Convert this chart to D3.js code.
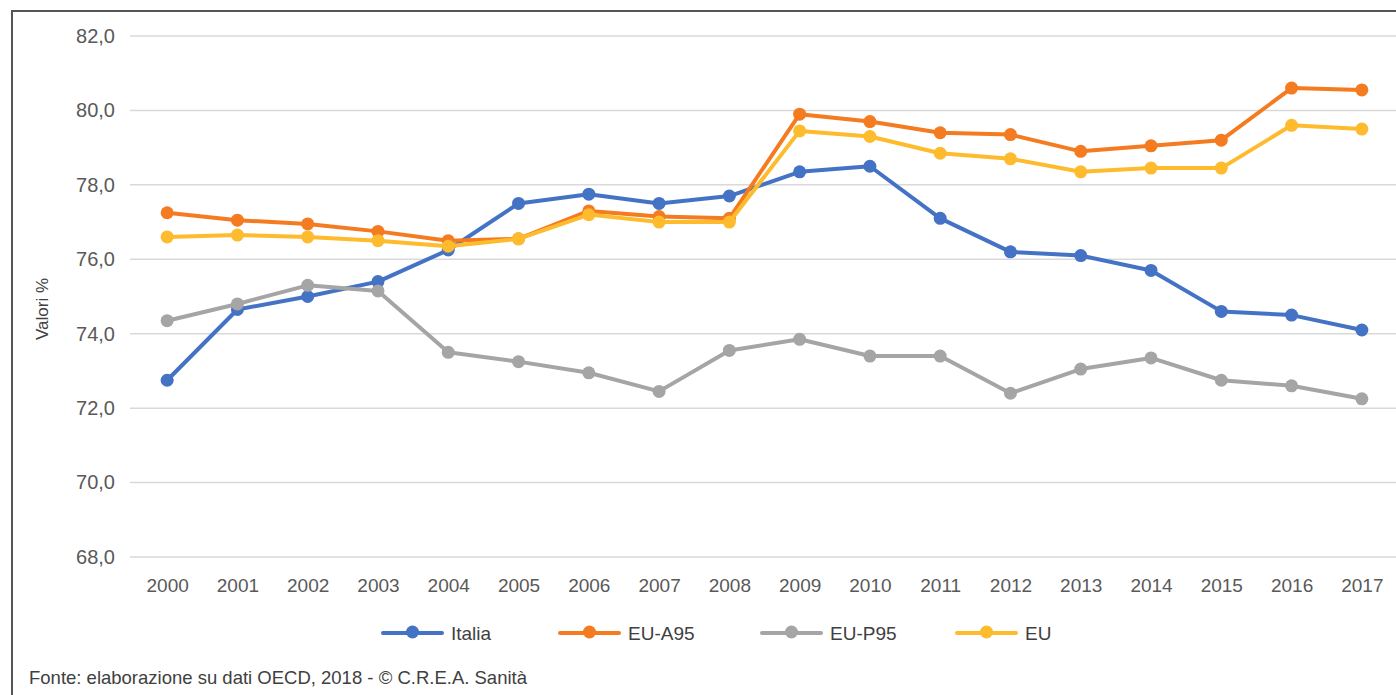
<!DOCTYPE html>
<html>
<head>
<meta charset="utf-8">
<script src="https://cdn.jsdelivr.net/npm/d3@7"></script>
<style>
  body { margin: 0; background: #fff; }
  svg { display: block; }
</style>
</head>
<body>
<svg width="1396" height="695"></svg>
<script>
var years = ["2000","2001","2002","2003","2004","2005","2006","2007","2008",
             "2009","2010","2011","2012","2013","2014","2015","2016","2017"];
var yTicks = [68, 70, 72, 74, 76, 78, 80, 82];

var italia = [72.75, 74.65, 75.0, 75.4, 76.25, 77.5, 77.75, 77.5, 77.7, 78.35, 78.5, 77.1, 76.2, 76.1, 75.7, 74.6, 74.5, 74.1];
var euA95  = [77.25, 77.05, 76.95, 76.75, 76.5, 76.55, 77.3, 77.15, 77.1, 79.9, 79.7, 79.4, 79.35, 78.9, 79.05, 79.2, 80.6, 80.55];
var euP95  = [74.35, 74.8, 75.3, 75.15, 73.5, 73.25, 72.95, 72.45, 73.55, 73.85, 73.4, 73.4, 72.4, 73.05, 73.35, 72.75, 72.6, 72.25];
var eu     = [76.6, 76.65, 76.6, 76.5, 76.35, 76.55, 77.2, 77.0, 77.0, 79.45, 79.3, 78.85, 78.7, 78.35, 78.45, 78.45, 79.6, 79.5];

var seriesNames = ["Italia", "EU-A95", "EU-P95", "EU"];
var seriesColors = ["#4472c4", "#f47b20", "#a5a5a5", "#fdbb2d"];
var seriesValues = [italia, euA95, euP95, eu];

var svg = d3.select("svg");
var sans = "'Liberation Sans', Arial, sans-serif";

var x = d3.scalePoint().domain(years).range([132, 1397]).padding(0.5);
var y = d3.scaleLinear().domain([68, 82]).range([557, 36]);

// frame
svg.append("path")
    .attr("d", "M12,695 L12,11 L1396,11")
    .attr("fill", "none")
    .attr("stroke", "#555")
    .attr("stroke-width", 2);

// grid
svg.append("g").selectAll("line")
    .data(yTicks)
    .enter().append("line")
      .attr("x1", 130).attr("x2", 1396)
      .attr("y1", function(d) { return y(d); })
      .attr("y2", function(d) { return y(d); })
      .attr("stroke", "#d9d9d9")
      .attr("stroke-width", 1.5);

// y axis
var yAxis = svg.append("g")
    .attr("transform", "translate(130,0)")
    .call(d3.axisLeft(y).tickValues(yTicks).tickSize(0).tickPadding(15)
      .tickFormat(function(d) { return d3.format(".1f")(d).replace(".", ","); }));
yAxis.select(".domain").remove();
yAxis.selectAll("text")
    .attr("font-family", sans)
    .attr("font-size", 20)
    .attr("fill", "#595959");

// x axis
var xAxis = svg.append("g")
    .attr("transform", "translate(0,571)")
    .call(d3.axisBottom(x).tickSize(0).tickPadding(8));
xAxis.select(".domain").remove();
xAxis.selectAll("text")
    .attr("font-family", sans)
    .attr("font-size", 19)
    .attr("fill", "#595959");

// y title
svg.append("text")
    .attr("transform", "translate(48,309) rotate(-90)")
    .attr("text-anchor", "middle")
    .attr("font-family", sans)
    .attr("font-size", 17)
    .attr("fill", "#404040")
    .text("Valori %");

var line = d3.line()
    .x(function(d, i) { return x(years[i]); })
    .y(function(d) { return y(d); });

seriesValues.forEach(function(vals, k) {
  var g = svg.append("g");
  g.append("path")
      .datum(vals)
      .attr("d", line)
      .attr("fill", "none")
      .attr("stroke", seriesColors[k])
      .attr("stroke-width", 4)
      .attr("stroke-linejoin", "round");
  g.selectAll("circle")
      .data(vals)
      .enter().append("circle")
        .attr("cx", function(d, i) { return x(years[i]); })
        .attr("cy", function(d) { return y(d); })
        .attr("r", 6.5)
        .attr("fill", seriesColors[k]);
});

// legend
var legX = [383, 560, 762, 957];
var legend = svg.append("g").selectAll("g")
    .data(seriesNames)
    .enter().append("g")
      .attr("transform", function(d, i) { return "translate(" + legX[i] + ",633)"; });
legend.append("line")
    .attr("x1", 0).attr("x2", 59)
    .attr("stroke", function(d, i) { return seriesColors[i]; })
    .attr("stroke-width", 4)
    .attr("stroke-linecap", "round");
legend.append("circle")
    .attr("cx", 29.5).attr("cy", -1).attr("r", 6.5)
    .attr("fill", function(d, i) { return seriesColors[i]; });
legend.append("text")
    .attr("x", 68).attr("y", 7)
    .attr("font-family", sans)
    .attr("font-size", 19)
    .attr("fill", "#404040")
    .text(function(d) { return d; });

// source
svg.append("text")
    .attr("x", 29).attr("y", 684)
    .attr("font-family", sans)
    .attr("font-size", 18.5)
    .attr("fill", "#404040")
    .text("Fonte: elaborazione su dati OECD, 2018  - \u00a9 C.R.E.A. Sanit\u00e0");
</script>
</body>
</html>
